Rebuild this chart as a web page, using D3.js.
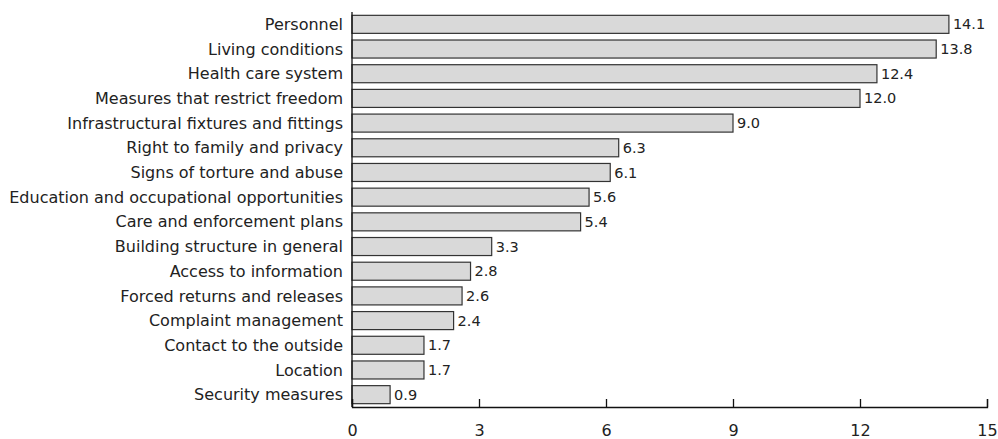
<!DOCTYPE html>
<html>
<head>
<meta charset="utf-8">
<script src="https://cdn.jsdelivr.net/npm/d3@7"></script>
<style>
  body { margin: 0; background: #fff; }
  text { font-family: "DejaVu Sans", Verdana, sans-serif; fill: #222; }
</style>
</head>
<body>
<script>
// Chart data
var categories = ["Personnel", "Living conditions", "Health care system", "Measures that restrict freedom",
    "Infrastructural fixtures and fittings", "Right to family and privacy", "Signs of torture and abuse",
    "Education and occupational opportunities", "Care and enforcement plans", "Building structure in general",
    "Access to information", "Forced returns and releases", "Complaint management", "Contact to the outside",
    "Location", "Security measures"];
var values = [14.1, 13.8, 12.4, 12.0, 9.0, 6.3, 6.1, 5.6, 5.4, 3.3, 2.8, 2.6, 2.4, 1.7, 1.7, 0.9];
var xTicks = [0, 3, 6, 9, 12, 15];

var width = 998, height = 439;
var margin = {top: 12, right: 11, bottom: 32, left: 352};

var svg = d3.select("body").append("svg").attr("width", width).attr("height", height);

var x = d3.scaleLinear().domain([0, 15]).range([margin.left, width - margin.right]);
var y = d3.scaleBand().domain(categories).range([margin.top, height - margin.bottom]).paddingInner(0.27).paddingOuter(0.135);

// Bars
svg.selectAll(".bar")
    .data(values)
    .enter().append("rect")
    .attr("class", "bar")
    .attr("x", x(0))
    .attr("y", function(d, i) { return y(categories[i]); })
    .attr("width", function(d) { return x(d) - x(0); })
    .attr("height", y.bandwidth())
    .style("fill", "#d9d9d9")
    .style("stroke", "#333")
    .style("stroke-width", 1.2);

// Value labels
svg.selectAll(".val")
    .data(values)
    .enter().append("text")
    .attr("class", "val")
    .attr("x", function(d) { return x(d) + 4; })
    .attr("y", function(d, i) { return y(categories[i]) + y.bandwidth() / 2; })
    .attr("dy", "0.35em")
    .style("font-size", "14.5px")
    .text(function(d) { return d.toFixed(1); });

// Category labels
svg.selectAll(".cat")
    .data(categories)
    .enter().append("text")
    .attr("class", "cat")
    .attr("x", margin.left - 9)
    .attr("y", function(d) { return y(d) + y.bandwidth() / 2; })
    .attr("dy", "0.35em")
    .attr("text-anchor", "end")
    .style("font-size", "16px")
    .text(function(d) { return d; });

// X axis, ticks pointing up
var xAxis = d3.axisBottom(x).tickValues(xTicks).tickSizeInner(-8).tickSizeOuter(-8).tickPadding(18);
var gx = svg.append("g").attr("transform", "translate(0," + (height - margin.bottom) + ")").call(xAxis);
gx.selectAll("path, line").style("stroke", "#111").style("stroke-width", 1.3);
gx.selectAll("text").style("font-size", "16px").style("font-family", "DejaVu Sans, Verdana, sans-serif").style("fill", "#222");

// Y axis line
svg.append("line")
    .attr("x1", x(0)).attr("x2", x(0))
    .attr("y1", margin.top).attr("y2", height - margin.bottom)
    .style("stroke", "#111").style("stroke-width", 1.3);
</script>
</body>
</html>
